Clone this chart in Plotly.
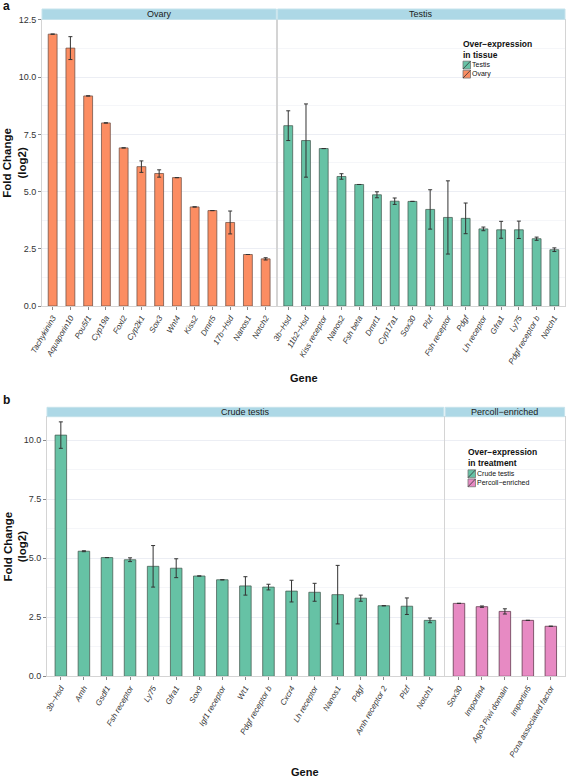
import plotly.graph_objects as go

M = "\u2212"
# ---------------- data ----------------
ovary_genes = ["Tachykinin3", "Aquaporin10", "Pou5f1", "Cyp19a", "Foxl2", "Cyp2k1", "Sox3",
               "Wnt4", "Kiss2", "Dmrt5", "17b" + M + "Hsd", "Nanos1", "Notch2"]
ovary_fc = [11.88, 11.27, 9.18, 8.00, 6.91, 6.09, 5.79, 5.61, 4.33, 4.17, 3.65, 2.25, 2.06]
ovary_se = [0, 0.50, 0, 0, 0, 0.25, 0.16, 0, 0, 0, 0.50, 0, 0.05]

testis_genes = ["3b" + M + "Hsd", "11b2" + M + "Hsd", "Kiss receptor", "Nanos2", "Fsh beta", "Dmrt1",
                "Cyp17a1", "Sox30", "Plzf", "Fsh receptor", "Pdgf", "Lh receptor", "Gfra1", "Ly75",
                "Pdgf receptor b", "Notch1"]
testis_fc = [7.88, 7.23, 6.88, 5.66, 5.31, 4.86, 4.58, 4.57, 4.22, 3.87, 3.83, 3.37, 3.33, 3.33, 2.94, 2.46]
testis_se = [0.65, 1.60, 0, 0.12, 0, 0.13, 0.14, 0, 0.86, 1.60, 0.67, 0.08, 0.37, 0.38, 0.07, 0.08]

crude_genes = ["3b" + M + "Hsd", "Amh", "Gsdf1", "Fsh receptor", "Ly75", "Gfra1", "Sox9",
               "Igf1 receptor", "Wt1", "Pdgf receptor b", "Cxcr4", "Lh receptor", "Nanos1", "Pdgf",
               "Amh receptor 2", "Plzf", "Notch1"]
crude_fc = [10.22, 5.30, 5.03, 4.94, 4.66, 4.58, 4.25, 4.09, 3.83, 3.78, 3.61, 3.56, 3.46, 3.31, 2.99, 2.97, 2.37]
crude_se = [0.56, 0.02, 0, 0.08, 0.88, 0.40, 0, 0, 0.39, 0.12, 0.46, 0.38, 1.24, 0.13, 0, 0.35, 0.10]

percoll_genes = ["Sox30", "Importin4", "Ago3 Piwi domain", "Importin5", "Pcna associated factor"]
percoll_fc = [3.09, 2.95, 2.75, 2.37, 2.12]
percoll_se = [0, 0.03, 0.11, 0, 0]

# ---------------- styling ----------------
W, H = 566, 780
FONT = "Liberation Sans, Arial, sans-serif"
ORANGE = "#FC8D62"
GREEN = "#66C2A5"
PINK = "#E78AC3"
BORDER = "#d4d4d4"
GRID = "#eceef4"


def fx(px):
    return px / W


def fy(py):
    return 1 - py / H


fig = go.Figure()


def add_bars(genes, vals, se, color, outline, xa, ya):
    fig.add_trace(go.Bar(
        x=genes, y=vals, width=0.5,
        marker=dict(color=color, line=dict(color=outline, width=1)),
        error_y=dict(type="data", array=se, visible=True, color="#333333", thickness=1, width=2),
        xaxis=xa, yaxis=ya, showlegend=False, hoverinfo="x+y",
    ))


add_bars(ovary_genes, ovary_fc, ovary_se, ORANGE, "rgba(110,80,70,0.75)", "x", "y")
add_bars(testis_genes, testis_fc, testis_se, GREEN, "rgba(70,90,80,0.75)", "x2", "y2")
add_bars(crude_genes, crude_fc, crude_se, GREEN, "rgba(70,90,80,0.75)", "x3", "y3")
add_bars(percoll_genes, percoll_fc, percoll_se, PINK, "rgba(100,60,80,0.8)", "x4", "y4")

# domains (px)
a_top, a_bot = 19.5, 306.0
b_top, b_bot = 416.7, 676.3
a_ov = (42.0, 276.3)
a_te = (277.6, 565.0)
b_cr = (47.0, 443.8)
b_pe = (445.2, 564.6)

xcommon = dict(type="category", showline=True, linecolor=BORDER, linewidth=1, mirror=True,
               ticks="outside", ticklen=3, tickcolor="#888888", showgrid=False, automargin=False,
               tickangle=-60, tickfont=dict(family=FONT, size=8, color="#333333", style="italic"),
               zeroline=False)
ycommon = dict(showline=True, linecolor=BORDER, linewidth=1, mirror=True, automargin=False,
               showgrid=True, gridcolor=GRID, gridwidth=1, zeroline=False,
               tickfont=dict(family=FONT, size=9, color="#333333"),
               minor=dict(showgrid=True, gridcolor="#f5f6f9", dtick=1.25, ticks=""))

fig.update_layout(
    width=W, height=H, autosize=False,
    margin=dict(l=0, r=0, t=0, b=0, autoexpand=False),
    paper_bgcolor="white", plot_bgcolor="white",
    bargap=0.5, showlegend=False,
    font=dict(family=FONT),
    xaxis=dict(xcommon, domain=[fx(a_ov[0]), fx(a_ov[1])], anchor="y",
               range=[-0.6, len(ovary_genes) - 0.4]),
    xaxis2=dict(xcommon, domain=[fx(a_te[0]), fx(a_te[1])], anchor="y2",
                range=[-0.6, len(testis_genes) - 0.4]),
    xaxis3=dict(xcommon, domain=[fx(b_cr[0]), fx(b_cr[1])], anchor="y3",
                range=[-0.6, len(crude_genes) - 0.4]),
    xaxis4=dict(xcommon, domain=[fx(b_pe[0]), fx(b_pe[1])], anchor="y4",
                range=[-0.6, len(percoll_genes) - 0.4]),
    yaxis=dict(ycommon, domain=[fy(a_bot), fy(a_top)], anchor="x", range=[0, 12.52],
               tickvals=[0, 2.5, 5, 7.5, 10, 12.5], tickformat=".1f",
               ticks="outside", ticklen=3, tickcolor="#888888"),
    yaxis2=dict(ycommon, domain=[fy(a_bot), fy(a_top)], anchor="x2", range=[0, 12.52],
                tickvals=[0, 2.5, 5, 7.5, 10, 12.5], showticklabels=False, ticks=""),
    yaxis3=dict(ycommon, domain=[fy(b_bot), fy(b_top)], anchor="x3", range=[0, 11.0],
                tickvals=[0, 2.5, 5, 7.5, 10], tickformat=".1f",
                ticks="outside", ticklen=3, tickcolor="#888888"),
    yaxis4=dict(ycommon, domain=[fy(b_bot), fy(b_top)], anchor="x4", range=[0, 11.0],
                tickvals=[0, 2.5, 5, 7.5, 10], showticklabels=False, ticks=""),
)

shapes = []
annotations = []

# strips
strips = [(a_ov, 9.0, a_top, "Ovary"), (a_te, 9.0, a_top, "Testis"),
          (b_cr, 407.3, b_top, "Crude testis"), (b_pe, 407.3, b_top, "Percoll" + M + "enriched")]
for (x0, x1), t, b, label in strips:
    shapes.append(dict(type="rect", xref="paper", yref="paper", x0=fx(x0), x1=fx(x1),
                       y0=fy(b), y1=fy(t), fillcolor="#ADD8E6", line=dict(color="#c6e3ec", width=1),
                       layer="above"))
    annotations.append(dict(text=label, xref="paper", yref="paper", x=fx((x0 + x1) / 2),
                            y=fy((t + b) / 2), showarrow=False, xanchor="center", yanchor="middle",
                            font=dict(family=FONT, size=9, color="#1a1a1a")))

# axis titles
for yc in [(a_top + a_bot) / 2, (b_top + b_bot) / 2]:
    annotations.append(dict(text="<b>Fold Change<br>(log2)</b>", xref="paper", yref="paper",
                            x=fx(0.5), y=fy(yc), showarrow=False, textangle=-90, borderpad=0,
                            xanchor="left", yanchor="middle",
                            font=dict(family=FONT, size=11.5, color="#111111")))
annotations.append(dict(text="<b>Gene</b>", xref="paper", yref="paper", x=fx(303.5), y=fy(378),
                        showarrow=False, xanchor="center", yanchor="middle",
                        font=dict(family=FONT, size=11, color="#111111")))
annotations.append(dict(text="<b>Gene</b>", xref="paper", yref="paper", x=fx(305.5), y=fy(772),
                        showarrow=False, xanchor="center", yanchor="middle",
                        font=dict(family=FONT, size=11, color="#111111")))
# panel letters
annotations.append(dict(text="<b>a</b>", xref="paper", yref="paper", x=fx(1), y=fy(6),
                        showarrow=False, xanchor="left", yanchor="middle",
                        font=dict(family=FONT, size=12, color="#111111")))
annotations.append(dict(text="<b>b</b>", xref="paper", yref="paper", x=fx(1), y=fy(400),
                        showarrow=False, xanchor="left", yanchor="middle",
                        font=dict(family=FONT, size=12, color="#111111")))


# legends (drawn manually to match the compact ggplot keys)
def legend(x0, y_title1, title2, items):
    annotations.append(dict(text="<b>Over" + M + "expression<br>" + title2 + "</b>",
                            xref="paper", yref="paper", align="left", borderpad=0,
                            x=fx(x0 - 1), y=fy(y_title1 - 7.5), showarrow=False, xanchor="left",
                            yanchor="top", font=dict(family=FONT, size=8.5, color="#111111")))
    ky0 = y_title1 + 15.5
    fs = 7.0
    step = 1.3 * fs
    for i, (label, col) in enumerate(items):
        yc = ky0 + step * (i + 0.5)
        shapes.append(dict(type="rect", xref="paper", yref="paper", x0=fx(x0), x1=fx(x0 + 7.5),
                           y0=fy(yc + 3.9), y1=fy(yc - 3.9), fillcolor=col,
                           line=dict(color="#777777", width=0.8)))
        shapes.append(dict(type="line", xref="paper", yref="paper", x0=fx(x0), x1=fx(x0 + 7.5),
                           y0=fy(yc + 3.9), y1=fy(yc - 3.9), line=dict(color="#333333", width=0.8)))
    annotations.append(dict(text="<br>".join(lbl for lbl, _ in items), xref="paper", yref="paper",
                            x=fx(x0 + 8), y=fy(ky0), showarrow=False, xanchor="left", yanchor="top",
                            align="left", borderpad=0,
                            font=dict(family=FONT, size=fs, color="#111111")))


legend(463, 45, "in tissue", [("Testis", GREEN), ("Ovary", ORANGE)])
legend(468, 453.7, "in treatment", [("Crude testis", GREEN), ("Percoll" + M + "enriched", PINK)])

fig.update_layout(shapes=shapes, annotations=annotations)
fig.write_html("out.html", config={"displayModeBar": False},
               post_script="document.body.style.margin='0';document.body.style.padding='0';"
                           "document.documentElement.style.overflow='hidden';")
